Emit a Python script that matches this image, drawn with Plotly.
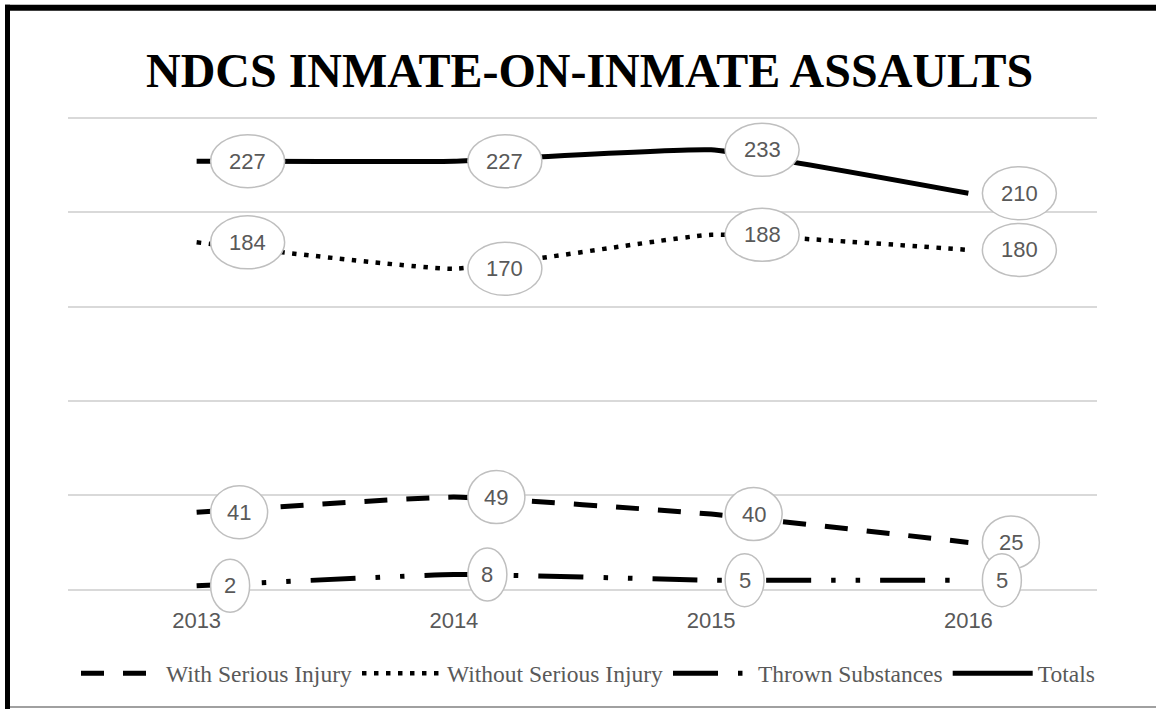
import plotly.graph_objects as go

years = ["2013", "2014", "2015", "2016"]
with_injury = [41, 49, 40, 25]
without_injury = [184, 170, 188, 180]
thrown = [2, 8, 5, 5]
totals = [227, 227, 233, 210]

series_names = ["With Serious Injury", "Without Serious Injury", "Thrown Substances", "Totals"]
series_values = [with_injury, without_injury, thrown, totals]
series_dash = ["23px,19px", "4.5px,7.5px", "45px,20px,4.5px,20px,4.5px,20px", "solid"]
series_width = [5, 4.5, 5, 5]

W, H = 1156, 709
Y_MIN, Y_MAX = -14, 252
K = 472 / 250.0                      # px per unit
PLOT_TOP = 590 - Y_MAX * K
PLOT_BOT = 590 - Y_MIN * K
L, R = 68, 59
T, B = PLOT_TOP, H - PLOT_BOT
PW, PH = W - L - R, PLOT_BOT - PLOT_TOP

def px_x(p):
    return (p - L) / PW

def px_y(p):
    return (PLOT_BOT - p) / PH

xs = list(range(len(years)))

fig = go.Figure()
for name, vals, dash, lw in zip(series_names, series_values, series_dash, series_width):
    fig.add_trace(go.Scatter(
        x=xs, y=vals, name=name, mode="lines",
        line=dict(color="black", width=lw, dash=dash, shape="spline", smoothing=0.35),
        hoverinfo="skip",
    ))

shapes = []
annotations = []
label_font = dict(family="Liberation Sans, Arial, sans-serif", size=22, color="#595959")
for vals in series_values:
    for i, v in enumerate(vals):
        n = len(str(v))
        w = {1: 39, 2: 57, 3: 74}[n]
        shapes.append(dict(
            type="circle", layer="above",
            xref="x", yref="y", xsizemode="pixel", ysizemode="pixel",
            xanchor=i, yanchor=v,
            x0=14, x1=14 + w, y0=-26.5, y1=26.5,
            line=dict(color="#bfbfbf", width=1.5), fillcolor="white",
        ))
        annotations.append(dict(
            x=i, y=v, xref="x", yref="y", text=str(v), showarrow=False,
            xshift=14 + w / 2, yshift=0, font=label_font,
            xanchor="center", yanchor="middle",
        ))

# outer border pieces
shapes.append(dict(type="rect", xref="paper", yref="paper", layer="above",
                   x0=px_x(5), x1=px_x(1160), y0=px_y(11), y1=px_y(5),
                   fillcolor="black", line=dict(width=0)))
shapes.append(dict(type="rect", xref="paper", yref="paper", layer="above",
                   x0=px_x(5), x1=px_x(10), y0=px_y(712), y1=px_y(5),
                   fillcolor="black", line=dict(width=0)))
shapes.append(dict(type="line", xref="paper", yref="paper", layer="above",
                   x0=px_x(10), x1=px_x(1160), y0=px_y(707.5), y1=px_y(707.5),
                   line=dict(color="#808080", width=1.5)))

annotations.append(dict(
    x=px_x(589), y=px_y(71), xref="paper", yref="paper", showarrow=False,
    text="<b>NDCS INMATE-ON-INMATE ASSAULTS</b>",
    font=dict(family="Liberation Serif, Times New Roman, serif", size=48, color="black"),
    xanchor="center", yanchor="middle",
))

fig.update_layout(
    width=W, height=H,
    margin=dict(l=L, r=R, t=T, b=B, pad=0),
    paper_bgcolor="white", plot_bgcolor="white",
    shapes=shapes, annotations=annotations,
    showlegend=True,
    legend=dict(
        orientation="h", x=px_x(588), xanchor="center", y=px_y(674), yanchor="middle",
        font=dict(family="Liberation Serif, Times New Roman, serif", size=23.5, color="#595959"),
        itemwidth=80, traceorder="normal",
    ),
    xaxis=dict(
        range=[-0.5, 3.5], tickmode="array", tickvals=xs, ticktext=years,
        showgrid=False, zeroline=False, showline=False, ticks="",
        tickfont=dict(family="Liberation Sans, Arial, sans-serif", size=22, color="#595959"),
        ticklabelstandoff=-11, fixedrange=True,
    ),
    yaxis=dict(
        range=[Y_MIN, Y_MAX], dtick=50, tick0=0, showgrid=True, gridcolor="#d9d9d9", gridwidth=1.5,
        zeroline=False, showline=False, showticklabels=False, ticks="", fixedrange=True,
    ),
)

fig.write_html("out.html", post_script="document.body.style.margin='0';",
               config={"displayModeBar": False})
